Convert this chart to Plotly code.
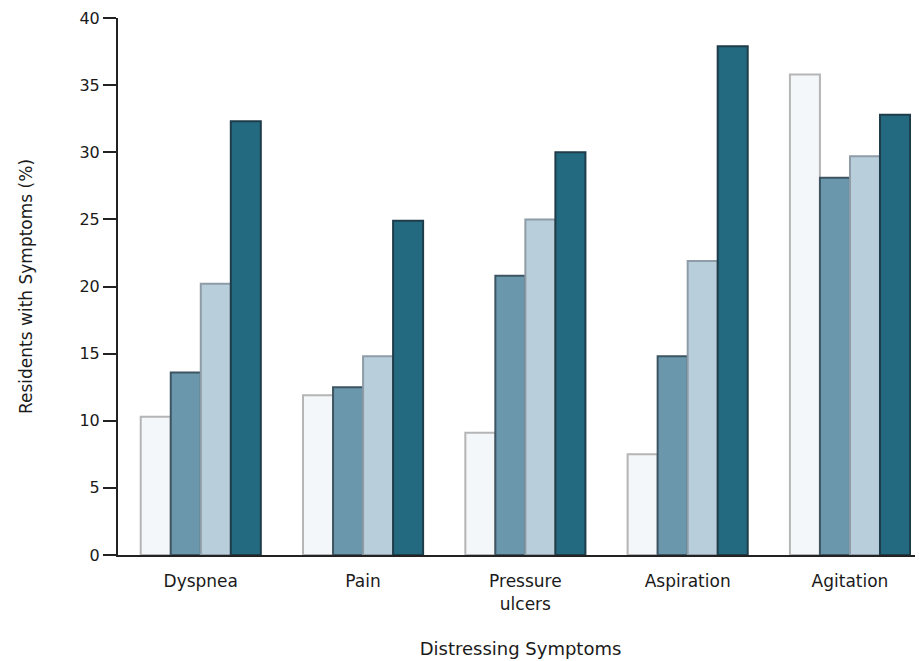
import plotly.graph_objects as go

categories = ["Dyspnea", "Pain", "Pressure<br>ulcers", "Aspiration", "Agitation"]
series1 = [10.3, 11.9, 9.1, 7.5, 35.8]
series2 = [13.6, 12.5, 20.8, 14.8, 28.1]
series3 = [20.2, 14.8, 25.0, 21.9, 29.7]
series4 = [32.3, 24.9, 30.0, 37.9, 32.8]
y_ticks = [0, 5, 10, 15, 20, 25, 30, 35, 40]

fills = ["#f3f7f9", "#6a97ab", "#b9cedb", "#236a80"]
lines = ["#b5b5b5", "#3d5563", "#8d9ca6", "#1e3c4a"]

fig = go.Figure()
for i, s in enumerate([series1, series2, series3, series4]):
    fig.add_trace(go.Bar(
        x=list(range(len(categories))), y=s,
        marker=dict(color=fills[i], line=dict(color=lines[i], width=2)),
        showlegend=False,
    ))

font = "DejaVu Sans, sans-serif"
fig.update_layout(
    width=915, height=653,
    margin=dict(l=110, r=0, t=10, b=106),
    paper_bgcolor="white", plot_bgcolor="white",
    barmode="group", bargap=0.26, bargroupgap=0,
    font=dict(family=font, size=16, color="#1a1a1a"),
    xaxis=dict(
        tickmode="array", tickvals=list(range(len(categories))), ticktext=categories,
        range=[-0.51, 4.45], showline=True, linecolor="#222", linewidth=2,
        ticks="", showgrid=False, zeroline=False, ticklabelstandoff=10,
        tickfont=dict(size=17),
        title=dict(text="Distressing Symptoms", font=dict(size=18), standoff=30),
    ),
    yaxis=dict(
        range=[0, 40], tickvals=y_ticks, showline=True, linecolor="#222", linewidth=2,
        ticks="outside", ticklen=13, tickwidth=2, tickcolor="#222",
        showgrid=False, zeroline=False, tickfont=dict(size=16),
        title=dict(text="Residents with Symptoms (%)", font=dict(size=17), standoff=42),
    ),
)
fig.write_html("out.html")
